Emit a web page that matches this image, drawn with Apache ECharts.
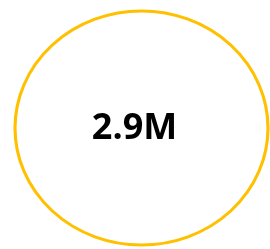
<!DOCTYPE html>
<html>
<head>
  <meta charset="utf-8">
  <title>KPI</title>
  <script src="https://cdn.jsdelivr.net/npm/echarts@6/dist/echarts.min.js"></script>
  <style>
    html, body { margin: 0; padding: 0; background: #fff; }
    #main { width: 270px; height: 249px; }
  </style>
</head>
<body>
  <div id="main"></div>
  <script>
    // single KPI value shown inside the ring
    const kpiNames = ['Total'];
    const kpiValues = [2900000];

    const chart = echarts.init(document.getElementById('main'));

    chart.setOption({
      animation: false,
      grid: { left: 15, top: 11, width: 253, height: 234 },
      xAxis: { type: 'value', min: 0, max: 2, show: false },
      yAxis: { type: 'value', min: 0, max: 2, show: false },
      series: [{
        type: 'scatter',
        symbol: 'circle',
        symbolSize: [253, 234],
        silent: true,
        data: kpiValues.map(function (v, i) {
          return { name: kpiNames[i], value: [1, 1, v] };
        }),
        itemStyle: {
          color: '#ffffff',
          borderColor: '#FFC000',
          borderWidth: 3,
          opacity: 1
        },
        label: {
          show: true,
          position: 'inside',
          offset: [-7, 1],
          color: '#000',
          fontFamily: 'Open Sans',
          fontWeight: 'bold',
          fontSize: 36,
          formatter: function (p) {
            return (p.value[2] / 1e6).toFixed(1) + 'M';
          }
        }
      }]
    });
  </script>
</body>
</html>
